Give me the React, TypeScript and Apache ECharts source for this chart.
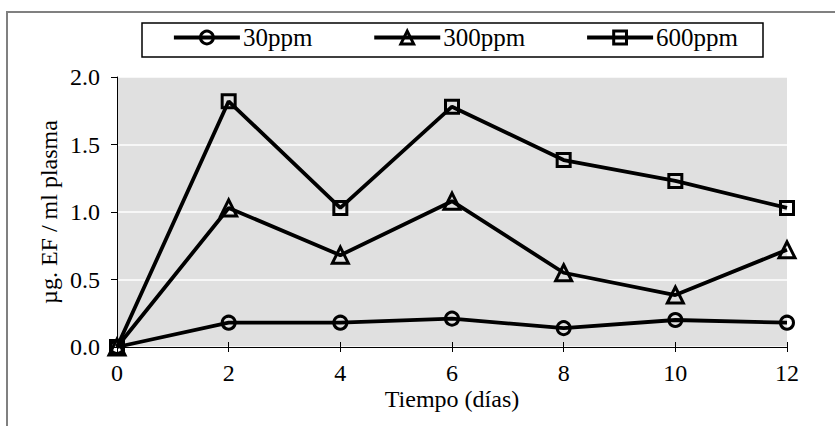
import React, { useEffect, useRef } from "react";
import * as echarts from "echarts";

const days = [0, 2, 4, 6, 8, 10, 12];
const ppm30 = [0, 0.18, 0.18, 0.21, 0.14, 0.2, 0.18];
const ppm300 = [0, 1.03, 0.68, 1.08, 0.55, 0.385, 0.72];
const ppm600 = [0, 1.82, 1.03, 1.78, 1.385, 1.23, 1.03];
const seriesNames = ["30ppm", "300ppm", "600ppm"];
const xTitle = "Tiempo (días)";
const yTitle = "µg. EF / ml plasma";

const FONT = "Liberation Serif";

export default function App() {
  const ref = useRef<HTMLDivElement>(null);
  useEffect(() => {
    if (!ref.current) return;
    const chart = echarts.init(ref.current, null, { renderer: "svg" });
    const mk = (name: string, vals: number[], symbol: string, size: number) => ({
      name,
      type: "line",
      data: days.map((d, i) => [d, vals[i]]),
      symbol,
      symbolSize: size,
      showSymbol: true,
      lineStyle: { color: "#000", width: 3.8 },
      itemStyle: { color: "rgba(0,0,0,0)", borderColor: "#000", borderWidth: 3 },
      emphasis: { disabled: true },
      z: 3,
    });
    chart.setOption({
      animation: false,
      textStyle: { fontFamily: FONT, color: "#000" },
      graphic: [
        {
          type: "rect",
          shape: { x: 7, y: 12, width: 900, height: 500 },
          style: { fill: "none", stroke: "#808080", lineWidth: 2 },
          z: 0,
        },
        {
          type: "rect",
          shape: { x: 142, y: 23, width: 621, height: 34 },
          style: { fill: "#fff", stroke: "#000", lineWidth: 1.5 },
          z: 0,
        },
      ],
      legend: {
        left: 172,
        top: 25,
        padding: 0,
        itemGap: 60,
        itemWidth: 66,
        itemHeight: 16,
        data: seriesNames,
        itemStyle: { color: "rgba(0,0,0,0)", borderColor: "#000", borderWidth: 3 },
        lineStyle: { color: "#000", width: 3.8 },
        textStyle: { fontFamily: FONT, fontSize: 25, color: "#000", padding: [0, 0, 0, -2] },
        z: 5,
      },
      grid: {
        left: 117,
        top: 77,
        width: 670,
        height: 270,
        show: true,
        backgroundColor: "#e0e0e0",
        borderWidth: 0,
      },
      xAxis: [
        {
          type: "value",
          min: 0,
          max: 12,
          interval: 2,
          position: "bottom",
          axisLine: { show: true, onZero: false, lineStyle: { color: "#000", width: 1 } },
          axisTick: { show: true, length: 5, lineStyle: { color: "#000" } },
          axisLabel: { fontFamily: FONT, fontSize: 24, lineHeight: 18, color: "#000", margin: 17 },
          splitLine: { show: false },
          name: xTitle,
          nameLocation: "middle",
          nameGap: 42,
          nameMoveOverlap: false,
          nameTextStyle: { fontFamily: FONT, fontSize: 24, lineHeight: 20, color: "#000" },
        },
        {
          type: "value",
          min: 0,
          max: 12,
          interval: 2,
          position: "bottom",
          axisLine: { show: false },
          axisTick: { show: true, inside: true, length: 5, lineStyle: { color: "#000" } },
          axisLabel: { show: false },
          splitLine: { show: false },
        },
      ],
      yAxis: {
        type: "value",
        min: 0,
        max: 2,
        interval: 0.5,
        axisLine: { show: true, onZero: false, lineStyle: { color: "#000", width: 1 } },
        axisTick: { show: true, length: 6, lineStyle: { color: "#000" } },
        axisLabel: {
          fontFamily: FONT,
          fontSize: 24,
          color: "#000",
          margin: 17,
          formatter: (v: number) => v.toFixed(1),
        },
        splitLine: { show: true, lineStyle: { color: "#fff", width: 1.5 } },
        name: yTitle,
        nameLocation: "middle",
        nameGap: 56,
        nameMoveOverlap: false,
        nameTextStyle: { fontFamily: FONT, fontSize: 24, color: "#000" },
      },
      series: [
        mk(seriesNames[0], ppm30, "circle", 13),
        mk(seriesNames[1], ppm300, "triangle", 16),
        mk(seriesNames[2], ppm600, "rect", 13),
      ],
    });
    return () => chart.dispose();
  }, []);
  return (
    <div
      ref={ref}
      style={{ position: "absolute", left: 0, top: 0, width: 835, height: 426 }}
    />
  );
}
